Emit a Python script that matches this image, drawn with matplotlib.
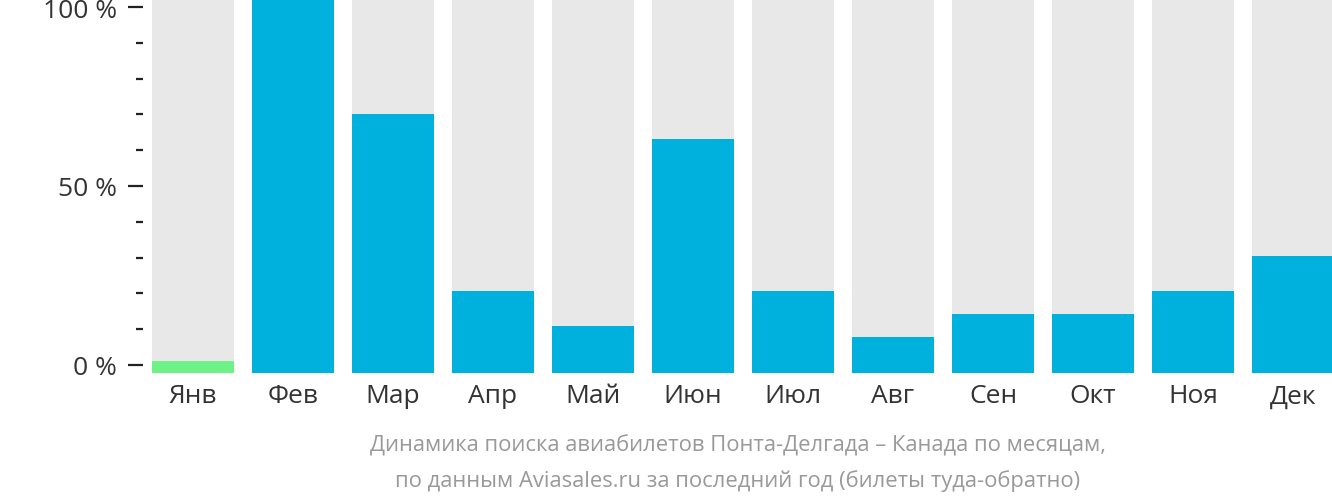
import numpy as np
import matplotlib
matplotlib.use("Agg")
import matplotlib.pyplot as plt
from matplotlib.ticker import MultipleLocator

months = ["Янв", "Фев", "Мар", "Апр", "Май", "Июн",
          "Июл", "Авг", "Сен", "Окт", "Ноя", "Дек"]
# share of full column height, %
values = [3.2, 100, 69.2, 22.0, 12.6, 62.7, 22.0, 9.7, 15.8, 15.8, 22.0, 31.4]
highlight = 0  # cheapest month drawn in green
title_lines = ["Динамика поиска авиабилетов Понта-Делгада – Канада по месяцам,",
               "по данным Aviasales.ru за последний год (билеты туда-обратно)"]

BLUE = "#00b1de"
GREEN = "#6ef187"
BG = "#e8e8e8"

plt.rcParams["font.family"] = ["Open Sans", "DejaVu Sans"]

fig = plt.figure(figsize=(13.32, 5.02), dpi=100)
ax = fig.add_axes([143 / 1332, 128 / 502, 1189 / 1332, 374 / 502])

y_lo, y_hi = -2.24, 102.24
x = np.arange(len(months))
colors = [GREEN if i == highlight else BLUE for i in range(len(months))]
tops = [y_lo + v / 100 * (y_hi - y_lo) for v in values]

ax.bar(x, y_hi - y_lo, bottom=y_lo, width=0.82, color=BG, zorder=1)
ax.bar(x, np.array(tops) - y_lo, bottom=y_lo, width=0.82, color=colors, zorder=2)

ax.set_xlim(-0.5, 11.39)
ax.set_ylim(y_lo, y_hi)
for s in ax.spines.values():
    s.set_visible(False)

ax.set_yticks([0, 50, 100])
ax.set_yticklabels(["0 %", "50 %", "100 %"])
ax.yaxis.set_minor_locator(MultipleLocator(10))
ax.tick_params(axis="y", which="major", length=10.8, width=1.6, pad=8,
               labelsize=19, labelcolor="#333333", color="#222222")
ax.tick_params(axis="y", which="minor", length=5, width=1.6, color="#222222")

ax.set_xticks(x)
ax.set_xticklabels(months)
ax.tick_params(axis="x", length=0, pad=7.5, labelsize=19, labelcolor="#333333")

cx = (143 + 1332) / 2 / 1332
fig.text(cx, 1 - 446 / 502, title_lines[0], ha="center", va="center",
         fontsize=15.8, color="#999999")
fig.text(cx, 1 - 481 / 502, title_lines[1], ha="center", va="center",
         fontsize=15.8, color="#999999")

fig.savefig("out.png", dpi=100)
